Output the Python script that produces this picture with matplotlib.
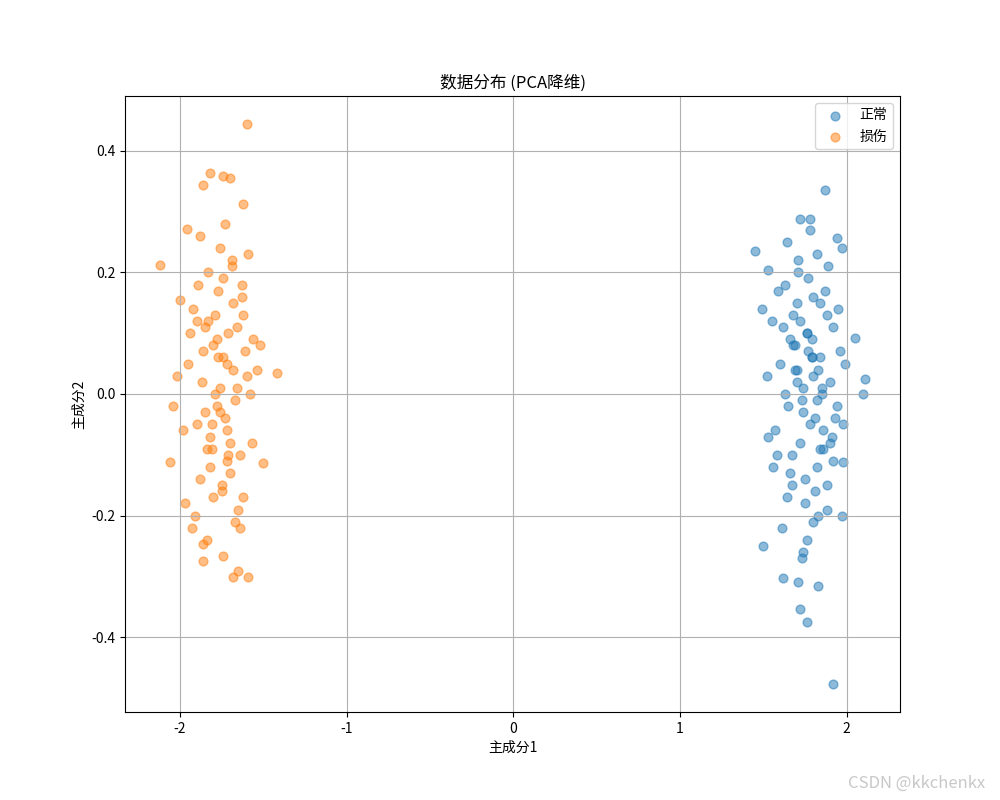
import matplotlib
matplotlib.use("Agg")
import matplotlib.pyplot as plt

plt.rcParams['font.family'] = ['Noto Sans CJK SC', 'DejaVu Sans']
plt.rcParams['axes.unicode_minus'] = False

# points (outliers first, then the dense core)
normal_x = [1.92, 1.76, 1.72, 1.87, 1.45, 2.11, 2.10, 2.05, 1.98, 1.50, 1.62, 1.71, 1.83, 1.94, 1.97, 1.72, 1.78, 1.53,
            1.55, 1.60, 1.65, 1.68, 1.70, 1.72, 1.74, 1.76, 1.78, 1.80, 1.82, 1.84, 1.86, 1.88, 1.90, 1.93, 1.96,
            1.58, 1.63, 1.67, 1.71, 1.75, 1.79, 1.83, 1.87, 1.91, 1.95, 1.52, 1.57, 1.62, 1.66, 1.69, 1.73, 1.77,
            1.81, 1.85, 1.89, 1.92, 1.99, 1.61, 1.64, 1.68, 1.74, 1.77, 1.80, 1.84, 1.88, 1.70, 1.75, 1.79, 1.82,
            1.86, 1.66, 1.72, 1.76, 1.81, 1.85, 1.59, 1.64, 1.69, 1.73, 1.78, 1.83, 1.90, 1.94, 1.56, 1.49, 1.98,
            1.71, 1.76, 1.80, 1.84, 1.67, 1.74, 1.79, 1.63, 1.88, 1.92, 1.53, 1.97, 1.70, 1.82]
normal_y = [-0.477, -0.375, -0.354, 0.336, 0.235, 0.025, 0.0, 0.092, -0.112, -0.25, -0.303, -0.31, -0.316, 0.257,
            0.24, 0.288, 0.288, 0.204,
            0.12, 0.05, -0.02, 0.08, 0.15, -0.08, 0.01, 0.10, -0.05, 0.03, -0.12, 0.06, -0.09, 0.13, 0.02, -0.04,
            0.07, -0.10, 0.18, -0.15, 0.22, -0.18, 0.09, -0.20, 0.17, -0.07, 0.14, 0.03, -0.06, 0.11, -0.13, 0.04,
            -0.01, 0.19, -0.16, 0.00, 0.21, -0.11, 0.05, -0.22, 0.25, 0.13, -0.03, 0.07, 0.16, -0.09, -0.19, 0.02,
            -0.14, 0.06, 0.23, -0.06, 0.09, 0.12, -0.24, -0.04, 0.01, 0.17, -0.17, 0.08, -0.27, 0.27, 0.04, -0.08,
            -0.02, -0.12, 0.14, -0.05, 0.20, 0.10, -0.21, 0.15, -0.10, -0.26, 0.06, 0.00, -0.15, 0.11, -0.07, -0.20,
            0.04, -0.01]

damage_x = [-1.60, -2.12, -1.82, -1.86, -1.74, -1.70, -1.62, -1.96, -1.42, -2.06, -1.50, -1.86, -1.68, -1.59, -1.65,
            -1.74, -1.86, -1.93, -2.00,
            -1.95, -1.90, -1.85, -1.80, -1.76, -1.72, -1.68, -1.64, -1.60, -1.56, -1.88, -1.83, -1.78, -1.74, -1.70,
            -1.66, -1.62, -1.58, -1.92, -1.87, -1.82, -1.77, -1.73, -1.69, -1.65, -1.61, -1.98, -1.54, -1.89, -1.84,
            -1.79, -1.75, -1.71, -1.67, -1.63, -1.91, -1.86, -1.81, -1.76, -1.72, -1.68, -1.64, -1.57, -2.02, -1.94,
            -1.80, -1.74, -1.70, -1.66, -1.78, -1.84, -1.88, -1.72, -1.76, -1.62, -1.82, -1.69, -1.75, -1.79, -1.85,
            -1.52, -2.04, -1.67, -1.73, -1.81, -1.77, -1.63, -1.90, -1.71, -1.59, -1.83, -1.97]
damage_y = [0.444, 0.212, 0.364, 0.344, 0.359, 0.355, 0.313, 0.271, 0.035, -0.112, -0.114, -0.275, -0.301, -0.301,
            -0.291, -0.267, -0.247, -0.221, 0.155,
            0.05, 0.12, -0.03, 0.08, 0.01, -0.06, 0.15, -0.10, 0.03, 0.09, -0.14, 0.20, -0.02, 0.06, -0.08, 0.11,
            -0.17, 0.00, 0.14, 0.02, -0.12, 0.17, -0.04, 0.22, -0.19, 0.07, -0.06, 0.04, 0.18, -0.09, 0.13, -0.15,
            0.10, -0.01, 0.16, -0.20, 0.07, -0.05, 0.24, -0.11, 0.04, -0.22, -0.08, 0.03, 0.10, -0.17, 0.19, -0.13,
            0.01, 0.09, -0.24, 0.26, 0.05, -0.03, 0.13, -0.07, 0.21, -0.16, 0.00, 0.11, 0.08, -0.02, -0.21, 0.28,
            -0.09, 0.06, 0.18, -0.05, -0.10, 0.23, 0.12, -0.18]

fig, ax = plt.subplots(figsize=(10, 8), dpi=100)
ax.scatter(normal_x, normal_y, s=40, alpha=0.5, label='正常')
ax.scatter(damage_x, damage_y, s=40, alpha=0.5, label='损伤')
ax.set_xlim(-2.33, 2.32)
ax.set_ylim(-0.523, 0.49)
ax.set_title('数据分布 (PCA降维)')
ax.set_xlabel('主成分1')
ax.set_ylabel('主成分2')
ax.legend(loc='upper right')
ax.grid(True)
fig.text(0.985, 0.01, 'CSDN @kkchenkx', ha='right', va='bottom', fontsize=12, color='#c8c8c8')
plt.savefig('out.png', dpi=100)
